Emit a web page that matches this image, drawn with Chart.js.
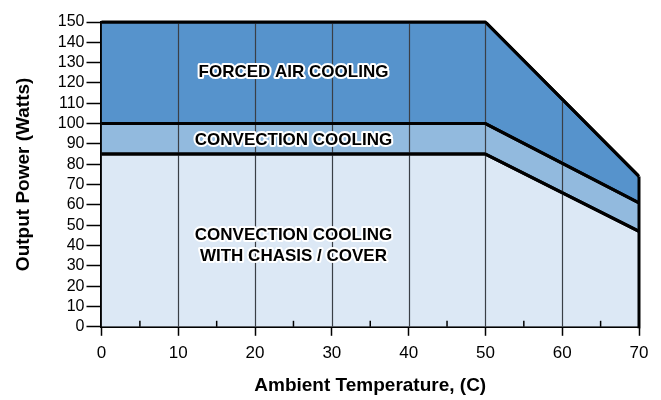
<!DOCTYPE html>
<html>
<head>
<meta charset="utf-8">
<script src="https://cdn.jsdelivr.net/npm/chart.js@4"></script>
<style>
  html, body { margin: 0; padding: 0; background: #fff; }
  #wrap { width: 661px; height: 400px; }
</style>
</head>
<body>
<div id="wrap"><canvas id="myChart"></canvas></div>
<script>
// data
const temps = [0, 50, 70];
const forcedAir = [150, 150, 74];
const convection = [100, 100, 61];
const chassisCover = [85, 85, 47];
const xTicks = [0, 10, 20, 30, 40, 50, 60, 70];
const yTicks = [0, 10, 20, 30, 40, 50, 60, 70, 80, 90, 100, 110, 120, 130, 140, 150];
const gridX = [10, 20, 30, 40, 50, 60];
const minorTicks = [5, 15, 25, 35, 45, 55, 65];
const regionLabels = [
  { x: 25, y: 125, lines: ['FORCED AIR COOLING'] },
  { x: 25, y: 92, lines: ['CONVECTION COOLING'] },
  { x: 25, y: 40, lines: ['CONVECTION COOLING', 'WITH CHASIS / COVER'] }
];

const FONT = '"Liberation Sans", Arial, sans-serif';
const pts = (ys) => temps.map((t, i) => ({ x: t, y: ys[i] }));

// top of the filled area at a given temperature
function topAt(t) {
  for (let i = 1; i < temps.length; i++) {
    if (t <= temps[i]) {
      const f = (t - temps[i - 1]) / (temps[i] - temps[i - 1]);
      return forcedAir[i - 1] + f * (forcedAir[i] - forcedAir[i - 1]);
    }
  }
  return forcedAir[forcedAir.length - 1];
}

const overlay = {
  id: 'overlay',
  afterDatasetsDraw(chart) {
    const ctx = chart.ctx;
    const xs = chart.scales.x, ys = chart.scales.y;
    const y0 = ys.getPixelForValue(0);
    ctx.save();
    // vertical grid lines over the fills
    ctx.strokeStyle = '#3a3f46';
    ctx.lineWidth = 1.2;
    gridX.forEach(v => {
      const px = Math.round(xs.getPixelForValue(v)) + 0.5;
      ctx.beginPath();
      ctx.moveTo(px, y0);
      ctx.lineTo(px, ys.getPixelForValue(topAt(v)));
      ctx.stroke();
    });
    ctx.restore();
  },
  afterDraw(chart) {
    const ctx = chart.ctx;
    const xs = chart.scales.x, ys = chart.scales.y;
    const y0 = ys.getPixelForValue(0);
    ctx.save();
    // redraw the curves on top of the grid
    chart.data.datasets.forEach((d) => {
      ctx.strokeStyle = '#000';
      ctx.lineWidth = 3;
      ctx.lineJoin = 'round';
      ctx.beginPath();
      d.data.forEach((p, j) => {
        const px = xs.getPixelForValue(p.x), py = ys.getPixelForValue(p.y);
        if (j === 0) ctx.moveTo(px, py); else ctx.lineTo(px, py);
      });
      ctx.stroke();
    });
    // right edge of the curve
    ctx.lineWidth = 3;
    ctx.beginPath();
    ctx.moveTo(xs.getPixelForValue(70), y0 + 1.5);
    ctx.lineTo(xs.getPixelForValue(70), ys.getPixelForValue(forcedAir[forcedAir.length - 1]));
    ctx.stroke();
    // small inward ticks at the half steps
    ctx.lineWidth = 1.5;
    minorTicks.forEach(v => {
      const px = xs.getPixelForValue(v);
      ctx.beginPath();
      ctx.moveTo(px, y0);
      ctx.lineTo(px, y0 - 6);
      ctx.stroke();
    });
    // region labels
    ctx.font = 'bold 17px ' + FONT;
    ctx.textAlign = 'center';
    ctx.textBaseline = 'middle';
    ctx.lineJoin = 'round';
    regionLabels.forEach(l => {
      const cx = xs.getPixelForValue(l.x);
      const cy = ys.getPixelForValue(l.y);
      l.lines.forEach((s, i) => {
        const yy = cy + (i - (l.lines.length - 1) / 2) * 21;
        ctx.strokeStyle = '#fff';
        ctx.lineWidth = 4;
        ctx.strokeText(s, cx, yy);
        ctx.fillStyle = '#000';
        ctx.fillText(s, cx, yy);
      });
    });
    ctx.restore();
  }
};

const ctx = document.getElementById('myChart').getContext('2d');
const chart = new Chart(ctx, {
  type: 'line',
  data: {
    datasets: [
      {
        label: 'Convection cooling with chassis / cover',
        data: pts(chassisCover),
        backgroundColor: 'rgb(220,232,245)',
        borderColor: '#000',
        borderWidth: 3,
        fill: 'origin',
        pointRadius: 0
      },
      {
        label: 'Convection cooling',
        data: pts(convection),
        backgroundColor: 'rgb(146,186,222)',
        borderColor: '#000',
        borderWidth: 3,
        fill: '-1',
        pointRadius: 0
      },
      {
        label: 'Forced air cooling',
        data: pts(forcedAir),
        backgroundColor: 'rgb(86,147,204)',
        borderColor: '#000',
        borderWidth: 3,
        fill: '-1',
        pointRadius: 0
      }
    ]
  },
  options: {
    responsive: true,
    maintainAspectRatio: false,
    animation: false,
    layout: { padding: { top: 22, right: 22, left: 12, bottom: 3 } },
    plugins: {
      legend: { display: false },
      tooltip: { enabled: false }
    },
    scales: {
      x: {
        type: 'linear',
        min: 0,
        max: 70,
        afterBuildTicks: (s) => { s.ticks = xTicks.map(v => ({ value: v })); },
        ticks: {
          color: '#000',
          font: { size: 17, family: FONT },
          padding: 7,
          maxRotation: 0,
          autoSkip: false
        },
        grid: {
          drawOnChartArea: false,
          tickColor: '#000',
          tickLength: 9,
          tickWidth: 1.5
        },
        border: { color: '#000', width: 3 },
        title: {
          display: true,
          text: 'Ambient Temperature, (C)',
          color: '#000',
          font: { size: 19, weight: 'bold', family: FONT },
          padding: { top: 4, bottom: 0 }
        }
      },
      y: {
        min: 0,
        max: 150,
        afterBuildTicks: (s) => { s.ticks = yTicks.map(v => ({ value: v })); },
        ticks: {
          color: '#000',
          font: { size: 16, family: FONT },
          padding: 2,
          autoSkip: false
        },
        grid: {
          drawOnChartArea: false,
          tickColor: '#000',
          tickLength: 15,
          tickWidth: 1.5
        },
        border: { color: '#000', width: 3 },
        title: {
          display: true,
          text: 'Output Power (Watts)',
          color: '#000',
          font: { size: 19, weight: 'bold', family: FONT },
          padding: { top: 0, bottom: 21 }
        }
      }
    }
  },
  plugins: [overlay]
});
</script>
</body>
</html>
